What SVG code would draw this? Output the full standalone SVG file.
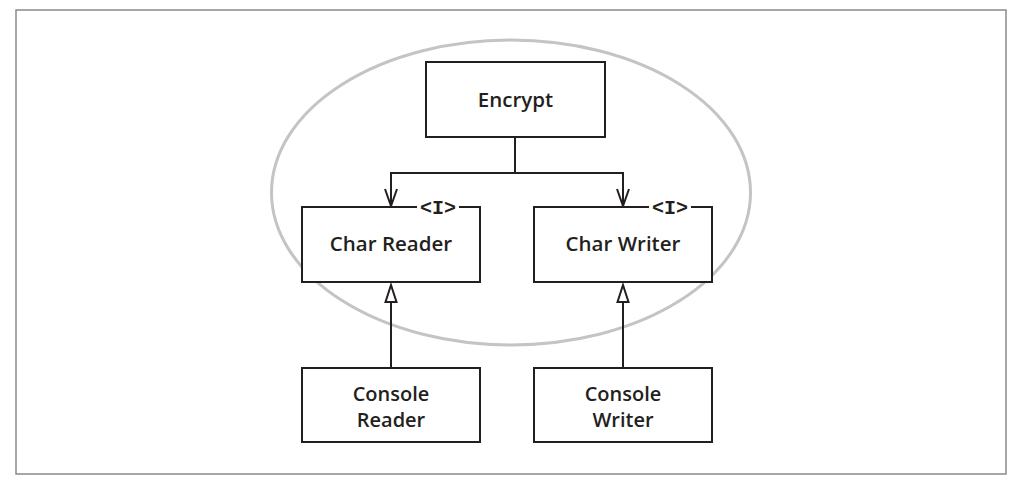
<svg xmlns="http://www.w3.org/2000/svg" width="1022" height="488" viewBox="0 0 1022 488">
<defs>
<style>
.box{fill:#fff;stroke:#231f20;stroke-width:2}
.lbl{font-family:"Open Sans","Noto Sans",sans-serif;font-size:20.5px;font-weight:600;fill:#231f20;text-anchor:middle}
.two{font-size:20px}
.st{font-family:"Liberation Mono","DejaVu Sans Mono",monospace;font-size:20px;font-weight:bold;fill:#231f20;text-anchor:middle}
.ln{fill:none;stroke:#231f20;stroke-width:2}
.tri{fill:#fff;stroke:#231f20;stroke-width:2;stroke-linejoin:miter}
</style>
</defs>
<rect x="16" y="10" width="990" height="464" fill="#fff" stroke="#8a8a8a" stroke-width="1.5"/>
<ellipse cx="511" cy="192.5" rx="239.5" ry="152.5" fill="none" stroke="#c4c4c4" stroke-width="3"/>
<g id="connectors">
<path class="ln" d="M515,137 V173 H391 V205"/>
<path class="ln" d="M515,173 H623 V205"/>
<path class="ln" d="M385,189 L391,206 L397,189"/>
<path class="ln" d="M617,189 L623,206 L629,189"/>
<path class="ln" d="M391,368 V302"/>
<path class="ln" d="M623,368 V302"/>
<path class="tri" d="M391,285 L396.5,302 L385.5,302 Z"/>
<path class="tri" d="M623,285 L628.5,302 L617.5,302 Z"/>
</g>
<g id="encrypt">
<rect class="box" x="426" y="62" width="179" height="75"/>
<text class="lbl" x="515.5" y="107">Encrypt</text>
</g>
<g id="char-reader">
<rect class="box" x="302" y="207" width="178" height="75"/>
<rect x="417" y="200" width="42" height="14" fill="#fff"/>
<text class="st" x="438" y="214">&lt;I&gt;</text>
<text class="lbl" x="391" y="251">Char Reader</text>
</g>
<g id="char-writer">
<rect class="box" x="534" y="207" width="178" height="75"/>
<rect x="649" y="200" width="42" height="14" fill="#fff"/>
<text class="st" x="670" y="214">&lt;I&gt;</text>
<text class="lbl" x="623" y="251">Char Writer</text>
</g>
<g id="console-reader">
<rect class="box" x="302" y="368" width="178" height="74"/>
<text class="lbl two" x="391" y="401">Console</text>
<text class="lbl two" x="391" y="427">Reader</text>
</g>
<g id="console-writer">
<rect class="box" x="534" y="368" width="178" height="74"/>
<text class="lbl two" x="623" y="401">Console</text>
<text class="lbl two" x="623" y="427">Writer</text>
</g>
</svg>
